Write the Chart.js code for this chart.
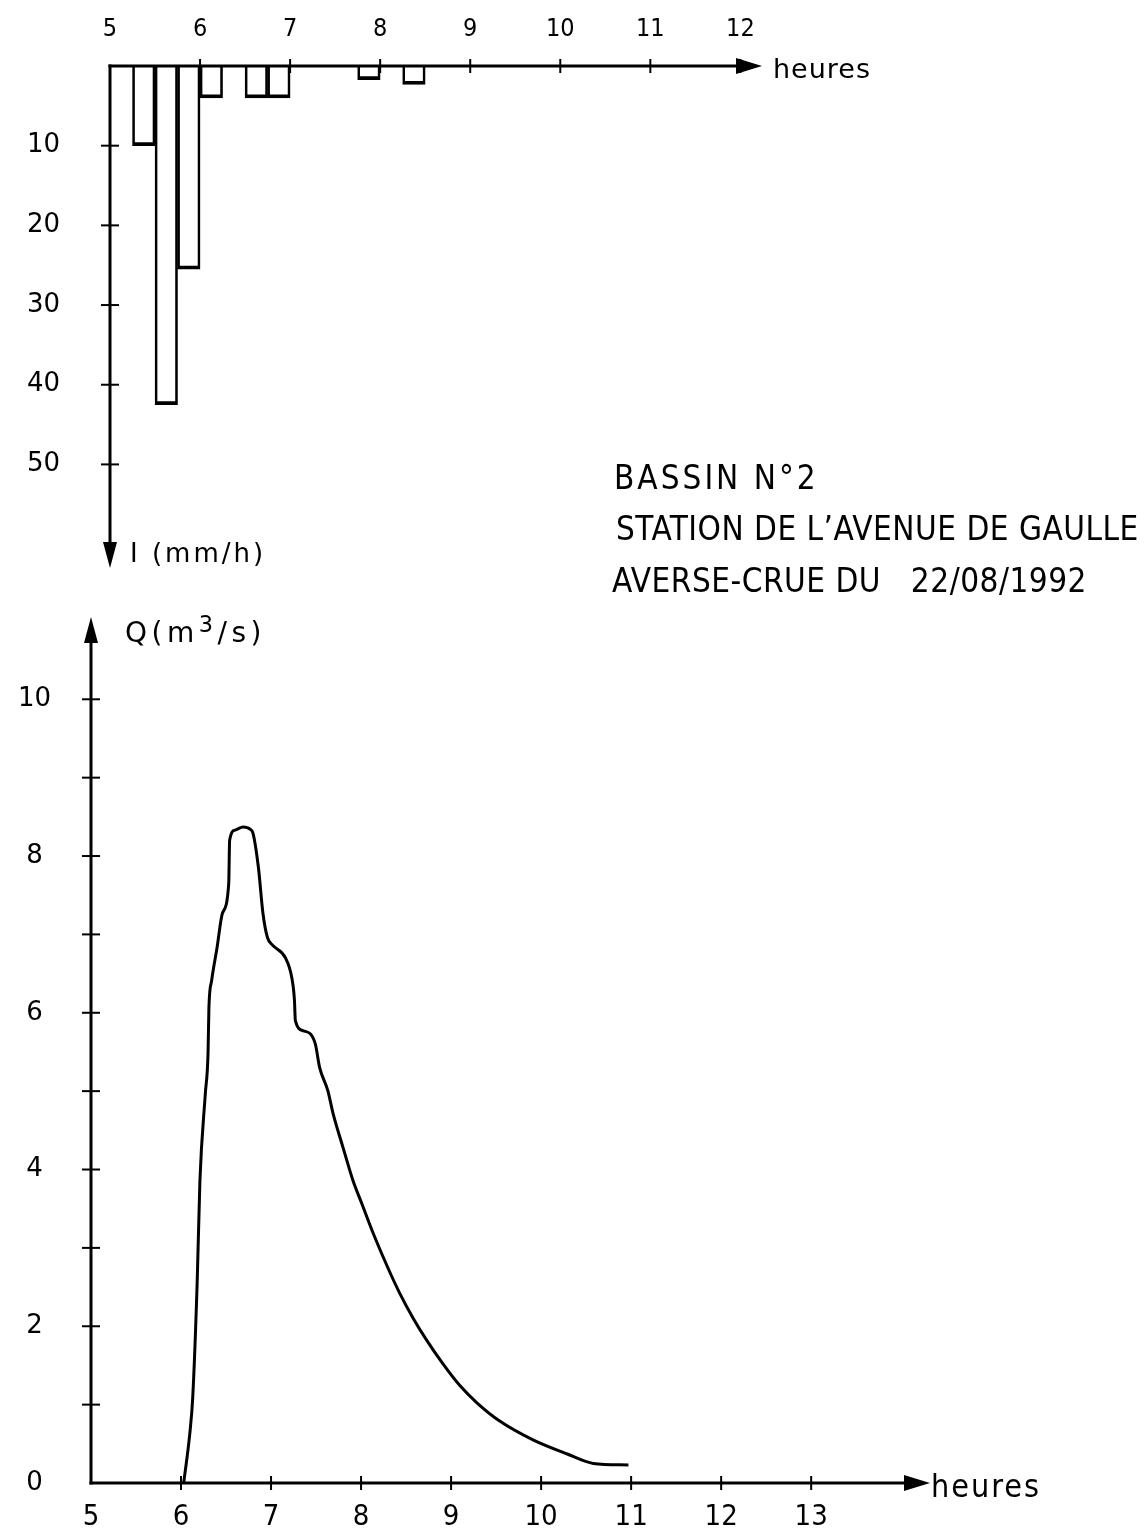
<!DOCTYPE html>
<html>
<head>
<meta charset="utf-8">
<title>Bassin N°2 – averse-crue du 22/08/1992</title>
<script src="https://cdn.jsdelivr.net/npm/chart.js@4/dist/chart.umd.min.js"></script>
<style>
  html, body { margin: 0; padding: 0; background: #fff; }
  body {
    width: 1148px; height: 1539px; position: relative; overflow: hidden;
    font-family: "DejaVu Sans Condensed", "DejaVu Sans", sans-serif; color: #000;
  }
  canvas { position: absolute; left: 0; }
  #rain { top: 0; }
  #flow { top: 590px; }
  .lbl { position: absolute; white-space: pre; line-height: 1; }
  .unit { font-family: "DejaVu Sans", sans-serif; font-size: 26px; }
  .note { font-size: 33px; letter-spacing: 0.5px; }
  sup { font-size: 0.8em; vertical-align: 0.45em; line-height: 0; }
</style>
</head>
<body>
<canvas id="rain" width="1148" height="600"></canvas>
<canvas id="flow" width="1148" height="949"></canvas>

<div class="lbl unit" style="left:773px; top:55px; font-size:27px; letter-spacing:1px;">heures</div>
<div class="lbl unit" style="left:130px; top:540px; letter-spacing:3px;">I (mm/h)</div>
<div class="lbl unit" style="left:125px; top:619px; font-size:28px; letter-spacing:4.5px;">Q(m<sup>3</sup>/s)</div>
<div class="lbl unit" style="left:931px; top:1470px; font-family:'DejaVu Sans Condensed','DejaVu Sans',sans-serif; font-size:32px; letter-spacing:2px;">heures</div>

<div class="lbl note" style="left:614px; top:461px; letter-spacing:3px;">BASSIN N°2</div>
<div class="lbl note" style="left:616px; top:512px;">STATION DE L’AVENUE DE GAULLE</div>
<div class="lbl note" style="left:612px; top:564px;">AVERSE-CRUE DU   22/08/1992</div>

<script>
// ---- Rainfall (hyetograph), 15-minute steps; start of each step in decimal hours
const rainStart     = [5.25, 5.5, 5.75, 6.0, 6.25, 6.5, 6.75, 7.0, 7.25, 7.5, 7.75, 8.0, 8.25];
const rainIntensity = [10, 42.5, 25.5, 4, 0, 4, 4, 0, 0, 0, 1.7, 0, 2.3];   // I (mm/h)
const rainHourTicks = [5, 6, 7, 8, 9, 10, 11, 12];
const intensityTicks = [10, 20, 30, 40, 50];

// ---- Discharge (hydrograph)
const flowTime = [6.03, 6.10, 6.13, 6.18, 6.21, 6.27, 6.30, 6.31, 6.34, 6.40, 6.46, 6.53,
                  6.54, 6.60, 6.69, 6.77, 6.80, 6.86, 6.91, 6.96, 7.02, 7.16, 7.23, 7.26,
                  7.27, 7.36, 7.49, 7.54, 7.63, 7.69, 7.80, 7.91, 8.01, 8.13, 8.30, 8.43,
                  8.58, 8.73, 8.91, 9.10, 9.29, 9.54, 9.91, 10.29, 10.58, 10.97];
const flowQ    = [0, 0.66, 1.09, 2.58, 3.86, 4.97, 5.48, 6.07, 6.41, 6.83, 7.27, 7.65,
                  8.20, 8.33, 8.37, 8.34, 8.29, 7.85, 7.27, 6.96, 6.86, 6.70, 6.45, 6.16,
                  5.90, 5.77, 5.61, 5.30, 5.01, 4.71, 4.28, 3.86, 3.56, 3.20, 2.74, 2.42,
                  2.10, 1.82, 1.52, 1.24, 1.02, 0.79, 0.55, 0.37, 0.25, 0.23];   // Q (m3/s)
const flowHourTicks = [5, 6, 7, 8, 9, 10, 11, 12, 13];
const flowTicks = [0, 1, 2, 3, 4, 5, 6, 7, 8, 9, 10];

const INK = '#000';
const CONDENSED = "'DejaVu Sans Condensed', 'DejaVu Sans', sans-serif";

// Draws both axes as plain lines with arrow heads and small crossing tick marks.
function arrowHead(ctx, tx, ty, dx, dy, len, half) {
  const bx = tx - dx * len, by = ty - dy * len;
  ctx.beginPath();
  ctx.moveTo(tx, ty);
  ctx.lineTo(bx - dy * half, by + dx * half);
  ctx.lineTo(bx + dy * half, by - dx * half);
  ctx.closePath();
  ctx.fill();
}

const handAxes = {
  id: 'handAxes',
  afterDatasetsDraw(chart) {
    const { ctx, scales: { x, y } } = chart;
    const ox = x.getPixelForValue(x.min);
    const oy = y.getPixelForValue(0);
    const xEnd = x.getPixelForValue(x.max);
    const yEnd = y.getPixelForValue(y.max);
    const s = Math.sign(yEnd - oy);
    ctx.save();
    ctx.strokeStyle = INK;
    ctx.fillStyle = INK;
    ctx.lineWidth = 3;
    ctx.lineCap = 'square';
    // horizontal time axis
    ctx.beginPath();
    ctx.moveTo(ox, oy);
    ctx.lineTo(xEnd - 18, oy);
    ctx.stroke();
    arrowHead(ctx, xEnd, oy, 1, 0, 26, 8);
    // vertical value axis
    ctx.beginPath();
    ctx.moveTo(ox, oy);
    ctx.lineTo(ox, yEnd - s * 18);
    ctx.stroke();
    arrowHead(ctx, ox, yEnd, 0, s, 26, 7);
    // tick marks crossing the axes
    ctx.lineWidth = 2;
    x.ticks.forEach(t => {
      if (t.value === x.min) return;
      const px = x.getPixelForValue(t.value);
      ctx.beginPath(); ctx.moveTo(px, oy - 6); ctx.lineTo(px, oy + 6); ctx.stroke();
    });
    y.ticks.forEach(t => {
      if (t.value === 0) return;
      const py = y.getPixelForValue(t.value);
      ctx.beginPath(); ctx.moveTo(ox - 8, py); ctx.lineTo(ox + 8, py); ctx.stroke();
    });
    ctx.restore();
  }
};

function fixedBox(size, horizontal) {
  return s => {
    if (horizontal) s.height = size; else s.width = size;
    s.paddingLeft = s.paddingRight = s.paddingTop = s.paddingBottom = 0;
  };
}

// ---- Hyetograph: intensity bars hanging from the top time axis
new Chart(document.getElementById('rain'), {
  type: 'bar',
  data: {
    datasets: [{
      label: 'I (mm/h)',
      data: rainStart.map((t, i) => ({ x: t + 0.125, y: rainIntensity[i] })),
      backgroundColor: 'rgba(255,255,255,0)',
      borderColor: INK,
      borderWidth: { left: 2, right: 2, bottom: 3, top: 0 },
      borderSkipped: 'start',
      barPercentage: 1,
      categoryPercentage: 1
    }]
  },
  options: {
    responsive: false,
    animation: false,
    layout: { padding: { left: 0, top: 0, right: 386, bottom: 32 } },
    plugins: { legend: { display: false }, tooltip: { enabled: false } },
    scales: {
      x: {
        type: 'linear', position: 'top', min: 5, max: 12.24, offset: false,
        afterBuildTicks: s => { s.ticks = rainHourTicks.map(v => ({ value: v })); },
        afterFit: fixedBox(66, true),
        grid: { display: false, drawTicks: false },
        border: { display: false },
        ticks: { color: INK, padding: 22, maxRotation: 0, autoSkip: false,
                 font: { family: CONDENSED, size: 25 } }
      },
      y: {
        type: 'linear', reverse: true, min: 0, max: 63,
        afterBuildTicks: s => { s.ticks = intensityTicks.map(v => ({ value: v })); },
        afterFit: fixedBox(110, false),
        grid: { display: false, drawTicks: false },
        border: { display: false },
        ticks: { color: INK, padding: 50, crossAlign: 'center',
                 font: { family: "'DejaVu Sans', sans-serif", size: 26 } }
      }
    }
  },
  plugins: [handAxes]
});

// ---- Hydrograph: discharge against time
new Chart(document.getElementById('flow'), {
  type: 'line',
  data: {
    datasets: [{
      label: 'Q (m3/s)',
      data: flowTime.map((t, i) => ({ x: t, y: flowQ[i] })),
      borderColor: INK,
      borderWidth: 3,
      pointRadius: 0,
      fill: false,
      cubicInterpolationMode: 'monotone'
    }]
  },
  options: {
    responsive: false,
    animation: false,
    layout: { padding: { left: 0, top: 27, right: 218, bottom: 0 } },
    plugins: { legend: { display: false }, tooltip: { enabled: false } },
    scales: {
      x: {
        type: 'linear', position: 'bottom', min: 5, max: 14.32,
        afterBuildTicks: s => { s.ticks = flowHourTicks.map(v => ({ value: v })); },
        afterFit: fixedBox(56, true),
        grid: { display: false, drawTicks: false },
        border: { display: false },
        ticks: { color: INK, padding: 17, maxRotation: 0, autoSkip: false,
                 font: { family: CONDENSED, size: 29 } }
      },
      y: {
        type: 'linear', min: 0, max: 11.05,
        afterBuildTicks: s => { s.ticks = flowTicks.map(v => ({ value: v })); },
        afterFit: fixedBox(91, false),
        grid: { display: false, drawTicks: false },
        border: { display: false },
        ticks: { color: INK, padding: 40, crossAlign: 'center',
                 callback: v => (v % 2 === 0 ? String(v) : ''),
                 font: { family: "'DejaVu Sans', sans-serif", size: 26 } }
      }
    }
  },
  plugins: [handAxes]
});
</script>
</body>
</html>
